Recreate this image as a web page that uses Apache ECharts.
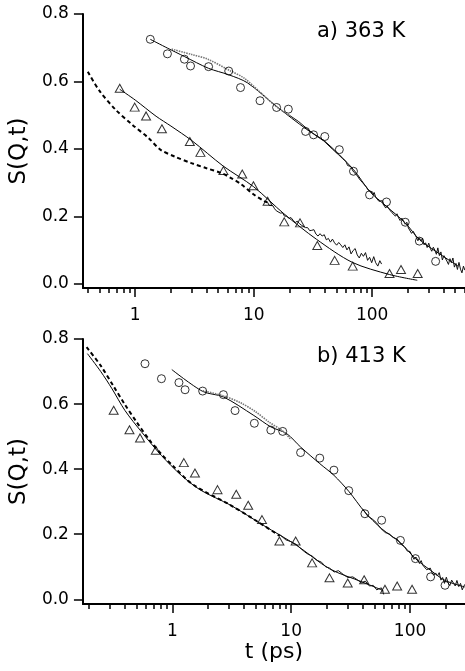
<!DOCTYPE html>
<html><head><meta charset="utf-8">
<script src="https://cdn.jsdelivr.net/npm/echarts@6/dist/echarts.min.js"></script>
<style>html,body{margin:0;padding:0;background:#fff}#c{width:465px;height:671px}</style>
</head><body><div id="c"></div>
<script>
// ---------- axis ticks / labels ----------
const yTicks = [0, 0.2, 0.4, 0.6, 0.8];
const xMajorTicks = [1, 10, 100];
const xMinorTicksA = [0.4,0.5,0.6,0.7,0.8,0.9,2,3,4,5,6,7,8,9,20,30,40,50,60,70,80,90,200,300,400,500,600];
const xMinorTicksB = [0.2,0.3,0.4,0.5,0.6,0.7,0.8,0.9,2,3,4,5,6,7,8,9,20,30,40,50,60,70,80,90,200];
const panelLabels = ['a) 363 K', 'b) 413 K'];
const yTitle = 'S(Q,t)';
const xTitle = 't (ps)';

// ---------- panel a) 363 K ----------
const aCircles = [[1.34,0.725],[1.87,0.682],[2.6,0.666],[2.93,0.646],[4.16,0.644],[6.15,0.631],[7.74,0.582],[11.3,0.543],[15.6,0.523],[19.6,0.518],[27.4,0.452],[32,0.442],[39.8,0.437],[52.8,0.398],[69.5,0.334],[95,0.264],[132,0.243],[190,0.183],[250,0.127],[343,0.067]];
const aTriangles = [[0.74,0.580],[0.99,0.524],[1.235,0.498],[1.68,0.460],[2.89,0.422],[3.55,0.390],[5.55,0.336],[8.0,0.326],[9.94,0.291],[13.1,0.245],[18.1,0.184],[24.6,0.181],[34.4,0.114],[48.2,0.070],[68.5,0.053],[140,0.031],[175,0.043],[242,0.031]];
const aCircleFit = [[1.34,0.725],[1.87,0.699],[2.6,0.674],[4.16,0.639],[6.15,0.62],[8.86,0.596],[15.6,0.526],[28,0.458],[39.8,0.423],[69.5,0.339],[95,0.275],[132,0.23],[190,0.181],[250,0.132],[343,0.097],[531,0.053]];
const aCircleSimEarly = [[2.03,0.696],[3,0.68],[4.1,0.666],[6.15,0.634],[8.3,0.61],[11.5,0.566],[15.6,0.525],[20,0.5]];
const aCircleSimTail = [[20,0.500],[24,0.481],[28,0.461],[33,0.441],[39,0.424],[46,0.400],[52,0.383],[56,0.372],
  [60,0.363],[62,0.351],[64,0.351],[66,0.348],[68,0.338],[70,0.331],[72,0.332],[74,0.323],[76,0.323],[78,0.311],
  [80,0.311],[83,0.300],[86,0.300],[89,0.288],[92,0.279],[95,0.280],[98,0.273],[101,0.264],[104,0.271],[107,0.257],
  [110,0.260],[114,0.245],[118,0.247],[122,0.247],[126,0.233],[130,0.225],[134,0.231],[138,0.223],[142,0.227],[147,0.211],
  [152,0.213],[157,0.201],[162,0.208],[167,0.196],[172,0.188],[178,0.195],[184,0.186],[190,0.177],[196,0.183],[202,0.166],
  [208,0.171],[215,0.150],[222,0.156],[229,0.156],[236,0.138],[243,0.128],[250,0.137],[258,0.127],[266,0.136],[274,0.116],
  [282,0.122],[291,0.108],[300,0.121],[309,0.106],[318,0.097],[328,0.109],[338,0.100],[348,0.088],[358,0.107],[369,0.084],
  [380,0.095],[391,0.071],[403,0.084],[415,0.089],[427,0.068],[440,0.058],[453,0.075],[466,0.063],[480,0.077],[494,0.050],
  [509,0.061],[524,0.043],[540,0.064],[556,0.044],[572,0.033],[589,0.053],[605,0.041]];
const aTriangleFit = [[0.74,0.577],[1,0.545],[1.5,0.497],[2,0.468],[3,0.425],[5.5,0.35],[10,0.288],[18,0.208],[34,0.132],[68,0.064],[140,0.028],[240,0.011]];
const aTriangleSimDashed = [[0.398,0.629],[0.5,0.572],[0.685,0.516],[0.944,0.472],[1.3,0.432],[1.63,0.398],[2.17,0.377],[2.98,0.358],[4,0.343],[5.3,0.329],[6.5,0.313],[7.8,0.296],[10,0.265],[12.2,0.246],[13,0.242]];
const aTriangleSimTail = [[13,0.244],[13.5,0.233],[14,0.234],[14.5,0.232],[15,0.223],[15.5,0.217],[16,0.219],[16.8,0.210],
  [17.5,0.211],[18.2,0.201],[19,0.201],[19.8,0.194],[20.6,0.197],[21.5,0.189],[22.4,0.182],[23.3,0.186],[24.3,0.179],
  [25.3,0.174],[26.3,0.176],[27.4,0.167],[28.5,0.167],[29.7,0.158],[30.9,0.159],[32.2,0.161],[33.5,0.148],[34.9,0.142],
  [36.3,0.149],[37.8,0.142],[39.4,0.146],[41,0.131],[42.7,0.135],[44.4,0.124],[46.2,0.133],[48.1,0.122],[50.1,0.115],
  [52.2,0.123],[54.3,0.116],[56.5,0.108],[58.8,0.116],[61.2,0.101],[63.7,0.110],[66.3,0.089],[69,0.099],[71.8,0.105],
  [74.8,0.086],[77.8,0.077],[81,0.091],[84.3,0.082],[87.8,0.093],[91.4,0.070],[95.1,0.079],[99,0.063],[103,0.081],
  [107,0.063],[111.5,0.053],[116,0.069],[120,0.059]];

// ---------- panel b) 413 K ----------
const bCircles = [[0.589,0.724],[0.81,0.678],[1.137,0.666],[1.28,0.644],[1.8,0.640],[2.69,0.629],[3.37,0.580],[4.9,0.541],[6.74,0.520],[8.49,0.516],[12.0,0.451],[17.4,0.434],[22.9,0.397],[30.5,0.334],[41.7,0.263],[57.7,0.243],[83,0.181],[111,0.125],[149,0.069],[197,0.043]];
const bTriangles = [[0.321,0.581],[0.436,0.521],[0.535,0.496],[0.726,0.458],[1.25,0.420],[1.55,0.388],[2.4,0.337],[3.45,0.323],[4.35,0.289],[5.68,0.245],[7.96,0.179],[10.9,0.179],[15.0,0.112],[21.0,0.066],[29.9,0.050],[41.1,0.060],[61.5,0.031],[77.9,0.041],[104,0.031]];
const bCircleFit = [[0.99,0.706],[1.8,0.639],[2.69,0.622],[4.85,0.565],[6.74,0.53],[9.18,0.509],[12,0.468],[17.4,0.417],[22.9,0.381],[30.5,0.332],[41.7,0.268],[57.7,0.217],[83,0.174],[111,0.125],[149,0.089],[197,0.058],[288,0.038]];
const bCircleSimEarly = [[1.8,0.641],[2.7,0.625],[3.75,0.604],[5,0.577],[6.5,0.545],[8.5,0.517],[10,0.49]];
const bCircleSimTail = [[40,0.278],[44,0.256],[48,0.247],[52,0.236],[57,0.217],[62,0.205],[67,0.201],[72,0.190],[78,0.185],
  [84,0.169],[90,0.161],[95,0.148],[100,0.147],[104,0.134],[108,0.123],[112,0.130],[116,0.121],[120,0.110],[124,0.119],
  [128,0.105],[133,0.108],[138,0.091],[143,0.096],[148,0.096],[153,0.082],[158,0.074],[164,0.081],[170,0.072],[176,0.082],
  [182,0.059],[188,0.067],[195,0.049],[202,0.068],[209,0.051],[216,0.042],[224,0.059],[232,0.050],[240,0.041],[248,0.058],
  [257,0.039],[266,0.049],[275,0.029],[284,0.041],[292,0.047]];
const bTriangleFit = [[0.193,0.755],[0.25,0.70],[0.311,0.647],[0.4,0.58],[0.552,0.514],[0.81,0.442],[1.19,0.381],[1.74,0.335],[3.1,0.289],[5.86,0.227],[11.1,0.166],[21,0.094],[39.8,0.053],[56.6,0.03],[60,0.025]];
const bTriangleSimDashed = [[0.19,0.775],[0.25,0.718],[0.32,0.655],[0.4,0.598],[0.5,0.545],[0.65,0.487],[0.8,0.448],[1.0,0.412],[1.5,0.352],[3,0.292],[5,0.243],[8,0.195]];
const bTriangleSimTail = [[8,0.199],[9,0.183],[10,0.177],[11,0.169],[12.2,0.154],[13.5,0.141],[15,0.133],[16.5,0.120],[18,0.114],[19.5,0.100],[21,0.096],[23,0.084],[25,0.088],[27.5,0.076],[30,0.067],[33,0.069],[36,0.060],[39,0.051],[42,0.056],[45.5,0.041],[49,0.043],[52.5,0.029],[55,0.033],[57.5,0.035],[59,0.023],[60,0.015]];

// ---------- chart ----------
const FONT = 'DejaVu Sans';
const chart = echarts.init(document.getElementById('c'), null, {renderer: 'canvas'});

function majorX(gi, min, max, withName) {
  return {
    type: 'log', logBase: 10, gridIndex: gi, min: min, max: max, position: 'bottom',
    axisLine: {show: true, onZero: false, lineStyle: {color: '#000', width: 2}},
    axisTick: {show: true, length: 9, customValues: xMajorTicks, lineStyle: {color: '#000', width: 1.5}},
    axisLabel: {customValues: xMajorTicks, margin: 19, fontSize: 17, color: '#000', fontFamily: FONT},
    splitLine: {show: false}, minorTick: {show: false},
    name: withName ? xTitle : '', nameLocation: 'middle', nameGap: 33,
    nameTextStyle: {fontSize: 22, color: '#000', fontFamily: FONT}
  };
}
function minorX(gi, min, max, ticks) {
  return {
    type: 'log', logBase: 10, gridIndex: gi, min: min, max: max, position: 'bottom',
    axisLine: {show: false, onZero: false},
    axisTick: {show: true, length: 5, customValues: ticks, lineStyle: {color: '#000', width: 1.5}},
    axisLabel: {show: false},
    splitLine: {show: false}, minorTick: {show: false}
  };
}
function yAx(gi, min) {
  return {
    type: 'value', gridIndex: gi, min: min, max: 0.8, position: 'left',
    axisLine: {show: true, onZero: false, lineStyle: {color: '#000', width: 2}},
    axisTick: {show: true, length: 9, customValues: yTicks, lineStyle: {color: '#000', width: 1.5}},
    axisLabel: {customValues: yTicks, margin: 14, fontSize: 17, color: '#000', fontFamily: FONT,
                formatter: v => Number(v).toFixed(1)},
    splitLine: {show: false},
    name: yTitle, nameLocation: 'middle', nameGap: 44,
    nameTextStyle: {fontSize: 23, color: '#000', fontFamily: FONT}
  };
}

function circles(data, xi, yi) {
  return {type: 'scatter', data: data, xAxisIndex: xi, yAxisIndex: yi, symbol: 'circle', symbolSize: 8, z: 5,
          itemStyle: {color: 'rgba(0,0,0,0)', borderColor: '#000', borderWidth: 1}};
}
function triangles(data, xi, yi) {
  return {type: 'scatter', data: data, xAxisIndex: xi, yAxisIndex: yi, symbol: 'triangle', symbolSize: [9, 8], z: 5,
          itemStyle: {color: 'rgba(0,0,0,0)', borderColor: '#000', borderWidth: 1}};
}
function line(data, xi, yi, style, smooth) {
  return {type: 'line', data: data, xAxisIndex: xi, yAxisIndex: yi, showSymbol: false, symbol: 'none',
          smooth: smooth, lineStyle: style, z: 3};
}
const fitStyle = {color: '#000', width: 1};
const dottedStyle = {color: '#777', width: 1.6, type: [1.5, 1]};
const noiseStyle = {color: '#111', width: 1};
const dashStyle = {color: '#000', width: 2, type: [4, 3]};

chart.setOption({
  animation: false,
  backgroundColor: '#fff',
  grid: [
    {left: 78, top: 14, width: 387, height: 274},
    {left: 78, top: 339, width: 387, height: 265}
  ],
  xAxis: [
    majorX(0, 0.362, 607, false),
    minorX(0, 0.362, 607, xMinorTicksA),
    majorX(1, 0.177, 290, true),
    minorX(1, 0.177, 290, xMinorTicksB)
  ],
  yAxis: [yAx(0, -0.0119), yAx(1, -0.0144)],
  graphic: [
    {type: 'text', left: 317, top: 21, style: {text: panelLabels[0], fontSize: 21, fontFamily: FONT, fill: '#000'}},
    {type: 'text', left: 317, top: 346, style: {text: panelLabels[1], fontSize: 21, fontFamily: FONT, fill: '#000'}}
  ],
  series: [
    // panel a
    line(aCircleFit, 0, 0, fitStyle, 0.3),
    line(aCircleSimEarly, 0, 0, dottedStyle, 0.3),
    line(aCircleSimTail, 0, 0, noiseStyle, false),
    line(aTriangleFit, 0, 0, fitStyle, 0.3),
    line(aTriangleSimDashed, 0, 0, dashStyle, 0.3),
    line(aTriangleSimTail, 0, 0, noiseStyle, false),
    circles(aCircles, 0, 0),
    triangles(aTriangles, 0, 0),
    // panel b
    line(bCircleFit, 2, 1, fitStyle, 0.3),
    line(bCircleSimEarly, 2, 1, dottedStyle, 0.3),
    line(bCircleSimTail, 2, 1, noiseStyle, false),
    line(bTriangleFit, 2, 1, fitStyle, 0.3),
    line(bTriangleSimDashed, 2, 1, dashStyle, 0.3),
    line(bTriangleSimTail, 2, 1, noiseStyle, false),
    circles(bCircles, 2, 1),
    triangles(bTriangles, 2, 1)
  ]
});
</script>
</body></html>
